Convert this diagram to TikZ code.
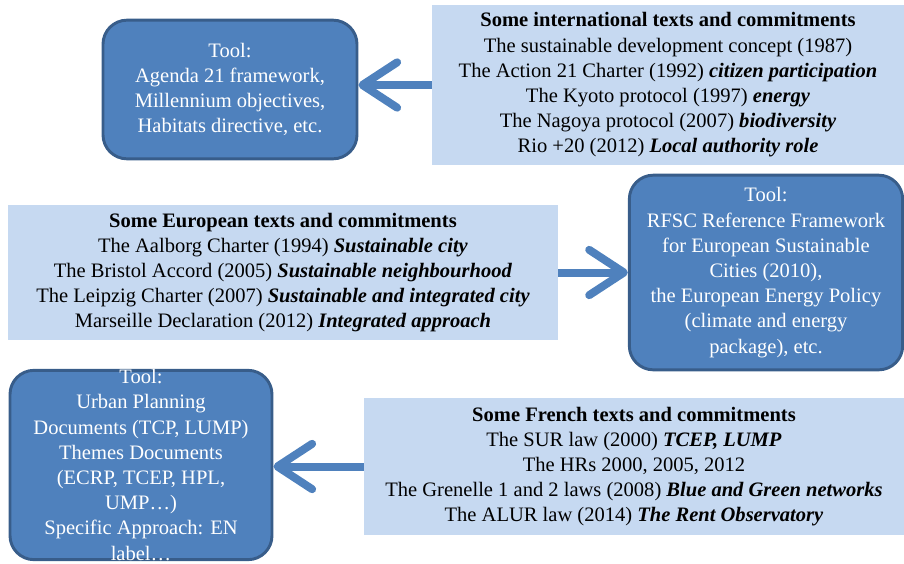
\documentclass[tikz,border=0pt]{standalone}
\usepackage{fontspec}
\setmainfont{Liberation Serif}
\usepackage{xcolor}
\usetikzlibrary{arrows.meta}
\definecolor{toolblue}{HTML}{4F81BD}
\definecolor{tooledge}{HTML}{385D8A}
\definecolor{paleblue}{HTML}{C6D9F1}

\begin{document}
\begin{tikzpicture}[x=0.75pt, y=-0.75pt,
        toolbox/.style={draw=tooledge, line width=2.2pt, fill=toolblue, rounded corners=18pt, text=white, align=center, inner sep=0pt, font=\fontsize{15.4}{18.9}\selectfont},
        textbox/.style={fill=paleblue, align=center, inner sep=0pt, font=\fontsize{15.4}{18.9}\selectfont},
        bigarrow/.style={toolblue, line width=6pt, -{Straight Barb[length=26pt, width=34pt, round]}}]
        \useasboundingbox (0,0) rectangle (904,564);

        \node[textbox, minimum width=354pt, minimum height=120pt] (intl) at (668,85) {\textbf{Some international texts and commitments}\\The sustainable development concept (1987)\\The Action 21 Charter (1992) \textbf{\textit{citizen participation}}\\The Kyoto protocol (1997) \textbf{\textit{energy}}\\The Nagoya protocol (2007) \textbf{\textit{biodiversity}}\\Rio +20 (2012) \textbf{\textit{Local authority role}}};
        \node[toolbox, minimum width=190.5pt, minimum height=104pt] (agenda) at (230,89.5) {Tool:\\Agenda 21 framework,\\Millennium objectives,\\Habitats directive, etc.};

        \node[textbox, minimum width=412.5pt, minimum height=101pt] (euro) at (283,272.5) {\textbf{Some European texts and commitments}\\The Aalborg Charter (1994) \textbf{\textit{Sustainable city}}\\The Bristol Accord (2005) \textbf{\textit{Sustainable neighbourhood}}\\The Leipzig Charter (2007) \textbf{\textit{Sustainable and integrated city}}\\Marseille Declaration (2012) \textbf{\textit{Integrated approach}}};
        \node[toolbox, minimum width=205pt, minimum height=146pt] (rfsc) at (766,272.5) {Tool:\\RFSC Reference Framework\\for European Sustainable\\Cities (2010),\\the European Energy Policy\\(climate and energy\\package), etc.};

        \node[textbox, minimum width=405pt, minimum height=102.75pt] (french) at (634,466.5) {\textbf{Some French texts and commitments}\\The SUR law (2000) \textbf{\textit{TCEP, LUMP}}\\The HRs 2000, 2005, 2012\\The Grenelle 1 and 2 laws (2008) \textbf{\textit{Blue and Green networks}}\\The ALUR law (2014) \textbf{\textit{The Rent Observatory}}};
        \node[toolbox, minimum width=196.5pt, minimum height=142pt, inner ysep=-2.5pt] (urban) at (141,465) {Tool:\\Urban Planning\\Documents (TCP, LUMP)\\Themes Documents\\(ECRP, TCEP, HPL,\\UMP\ldots)\\Specific Approach: EN\\label\ldots};

        \draw[bigarrow] (intl.west) -- (intl.west -| agenda.east);
        \draw[bigarrow] (euro.east) -- (euro.east -| rfsc.west);
        \draw[bigarrow] (french.west) -- (french.west -| urban.east);
    \end{tikzpicture}
\end{document}
